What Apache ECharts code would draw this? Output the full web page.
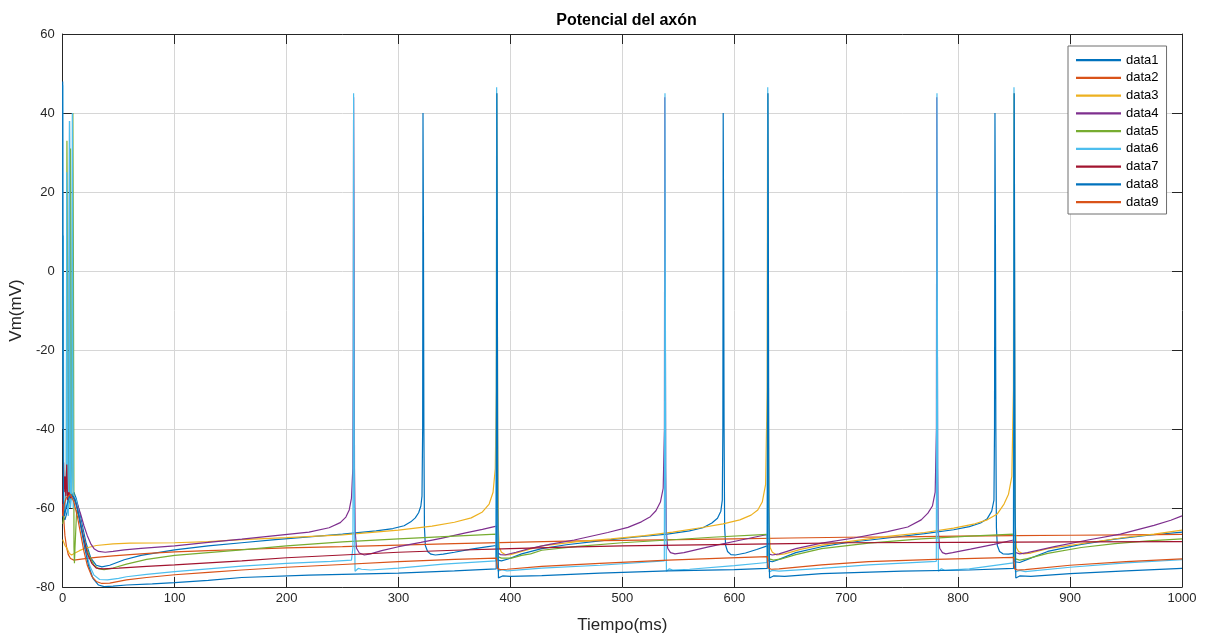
<!DOCTYPE html>
<html>
<head>
<meta charset="utf-8">
<script src="https://cdn.jsdelivr.net/npm/echarts@6/dist/echarts.min.js"></script>
<style>
  html, body { margin: 0; padding: 0; background: #fff; }
  #chart { width: 1212px; height: 641px; }
</style>
</head>
<body>
<div id="chart"></div>
<script>
// Membrane potential traces, [time (ms), Vm (mV)]
const data1 = [[0,-62],[2,-63],[4,-61],[5.3,-57],[5.8,0],[6.1,38],[6.5,0],[7,-58],[8,-57],[10,-56],[12,-57.5],[15,-61],[18,-65],[21,-69],[25,-72.6],[30,-74.5],[35,-74.9],[42,-74.5],[55,-73.1],[70,-72],[100,-70.6],[130,-69.6],[160,-68.8],[190,-68],[220,-67.3],[250,-66.6],[280,-65.8],[295,-65.2],[305,-64.5],[311,-63.5],[315,-62.5],[318,-61.2],[320,-59.5],[321,-57],[321.6,-40],[321.9,40],[322.3,10],[322.7,-40],[323.2,-65],[324,-69.5],[326,-71],[329,-71.7],[333,-71.9],[340,-71.7],[350,-71.2],[365,-70.4],[380,-69.8],[387.5,-69.5],[388.5,-73.2],[392,-73.4],[398,-72.9],[410,-71.6],[428,-70.3],[450,-69.3],[480,-68.3],[510,-67.4],[540,-66.6],[560,-65.8],[572,-65],[580,-63.8],[585,-62.6],[588,-60.8],[589.3,-58],[589.8,-40],[590.1,40],[590.5,10],[590.9,-40],[591.4,-65],[592.3,-69.5],[594,-71],[597,-71.8],[601,-71.9],[610,-71.4],[620,-70.5],[629.5,-69.6],[630.5,-73.4],[634,-73.6],[640,-73],[655,-71.3],[678,-69.8],[700,-68.8],[737,-67.6],[770,-66.5],[796,-65.5],[810,-64.7],[820,-63.8],[826,-62.7],[830,-60.8],[832,-58],[832.5,-40],[832.9,40],[833.3,10],[833.7,-40],[834.2,-65],[835,-69.5],[837,-71],[840,-71.6],[845,-71.7],[849.5,-71.5],[850.5,-73.6],[855,-73.8],[862,-73],[880,-71],[910,-69.2],[940,-67.9],[970,-66.9],[1000,-66.1]];

const data2 = [[0,-59],[1,-63],[2,-67],[3.5,-70],[5,-71.8],[7,-72.8],[10,-73.2],[15,-73],[20,-72.8],[30,-72.5],[45,-72.1],[60,-71.8],[80,-71.4],[100,-71.1],[130,-70.8],[160,-70.5],[200,-70.1],[250,-69.8],[300,-69.4],[350,-69],[400,-68.7],[450,-68.4],[500,-68.2],[550,-68],[600,-67.8],[650,-67.6],[700,-67.4],[750,-67.3],[800,-67.1],[850,-67],[900,-66.9],[950,-66.8],[1000,-66.7]];

const data3 = [[0,-68],[2,-69.5],[4,-70.3],[6,-71.5],[8,-71.9],[11,-71.4],[15,-70.8],[20,-70.2],[30,-69.5],[45,-69.1],[60,-68.9],[100,-68.8],[130,-68.5],[160,-68],[200,-67.5],[250,-66.8],[300,-65.6],[330,-64.6],[350,-63.6],[365,-62.5],[375,-61],[381,-59],[384.5,-56],[386.5,-50],[387.4,-30],[387.8,45],[388.2,20],[388.6,-40],[389.2,-65],[390,-70],[392,-71.2],[396,-71.9],[400,-71.8],[410,-71],[428,-69.6],[460,-68.5],[490,-67.8],[520,-67],[545,-66.1],[570,-65],[590,-64],[605,-63],[615,-61.8],[621,-60.5],[625,-58.5],[628,-54],[629.4,-30],[629.8,45],[630.2,20],[630.6,-40],[631.2,-65],[632,-70],[634,-71.2],[638,-71.9],[645,-71.6],[660,-70.4],[678,-69.4],[710,-68.2],[737,-67.2],[770,-66.2],[796,-65.1],[815,-64],[826,-63],[835,-61.5],[841,-59],[845,-56.5],[848,-52],[849.4,-30],[849.8,45],[850.2,20],[850.6,-40],[851.2,-65],[852,-70],[854,-71],[858,-71.6],[865,-71.4],[880,-70.3],[916,-68.8],[950,-67.4],[975,-66.6],[1000,-65.6]];

const data4 = [[0,-62],[3,-60],[6,-58.5],[8,-57.5],[10,-57.8],[13,-59],[16,-61.5],[19,-64.5],[22,-67],[25,-69],[28,-70.3],[32,-71],[38,-71.2],[45,-71],[55,-70.6],[70,-70.2],[100,-69.6],[130,-68.7],[160,-67.9],[190,-67],[220,-66.1],[238,-65],[248,-63.7],[253,-62.3],[256,-60.5],[258,-57.5],[259.2,-50],[259.6,-20],[259.9,44],[260.3,10],[260.7,-50],[261.3,-66],[262.5,-70.2],[265,-71.4],[269.5,-71.9],[275,-71.6],[285,-70.8],[300,-69.8],[320,-68.7],[338,-67.7],[360,-66.3],[375,-65.4],[387.5,-64.6],[388.5,-71.3],[391,-71.8],[395,-71.9],[405,-71.2],[418,-70.2],[435,-69.2],[457,-68.1],[487,-66.2],[505,-64.9],[517,-63.5],[525,-62.2],[530,-60.7],[534,-58.5],[536.5,-55],[537.6,-40],[537.9,44],[538.3,10],[538.7,-50],[539.3,-66],[540.5,-70.2],[543,-71.3],[547,-71.6],[555,-71.3],[576,-69.9],[606,-68.1],[629.5,-66.7],[630.5,-71.6],[634,-71.9],[640,-71.6],[655,-70.3],[678,-68.9],[707,-67.6],[737,-66],[755,-64.8],[767,-63],[773,-61.3],[777,-59.5],[779.5,-56],[780.6,-40],[780.9,44],[781.3,10],[781.7,-50],[782.3,-66],[783.5,-70.2],[786,-71.3],[789,-71.6],[795,-71.3],[811,-70.4],[832,-69.2],[849.5,-68.1],[850.5,-71.2],[855,-71.6],[862,-71.3],[886,-69.8],[916,-68.1],[945,-66.6],[975,-64.4],[990,-63.1],[1000,-62]];

const data5 = [[0,-64],[2,-61],[3.3,-50],[3.8,33],[4.3,0],[4.8,-58],[5.5,-60],[6.5,-50],[7,31],[7.5,0],[8,-58],[8.6,-50],[9.1,40],[9.6,0],[10.1,-70],[10.5,-74],[11,-70],[12.5,-60.5],[15,-62.5],[18.5,-67.3],[21,-70],[24.4,-72.5],[28,-74.5],[32,-75.4],[37,-75.6],[45,-75.2],[57,-74.2],[75,-73],[100,-72],[130,-71.3],[160,-70.6],[200,-69.6],[250,-68.6],[300,-67.8],[350,-67.1],[387.5,-66.6],[388.5,-72.3],[392,-72.7],[401,-72.7],[410,-72],[418,-71.6],[428,-70.7],[460,-69.7],[500,-68.8],[541,-68.1],[580,-67.4],[629.5,-66.7],[630.5,-72.8],[635,-73.2],[642,-72.9],[655,-71.8],[678,-70.3],[720,-68.9],[767,-67.8],[810,-67.1],[849.5,-66.6],[850.5,-72.8],[855,-73.2],[862,-72.8],[880,-71.5],[910,-70],[940,-69],[970,-68.3],[1000,-67.8]];

const data6 = [[0,47],[0.3,-40],[0.6,9],[0.9,-55],[1.5,-62],[2.5,-60],[3.2,-50],[3.6,25],[4,-20],[4.4,-60],[5,-62],[5.7,-50],[6.1,38],[6.5,-10],[6.9,-60],[7.6,-58],[8.2,-50],[8.6,40],[9,-10],[9.4,-60],[10,-57],[12,-58],[15,-62],[18,-66.5],[21,-71],[24,-74.5],[28,-77],[33,-78.1],[40,-78.2],[50,-77.8],[57,-77.4],[75,-76.8],[100,-76.1],[130,-75.4],[160,-74.7],[200,-74],[240,-73.5],[258,-73.2],[259.3,-70],[259.6,-30],[259.9,45],[260.2,0],[260.6,-60],[261.2,-76],[262,-76.4],[264,-75.3],[267,-75.5],[275,-75.7],[300,-75.2],[340,-74.2],[387,-73.4],[387.4,-30],[387.7,46.5],[388,0],[388.4,-60],[389,-76],[390,-76.4],[392,-75.6],[397,-75.9],[428,-75.2],[480,-74.5],[537.5,-73.4],[537.8,-30],[538.1,45],[538.4,0],[538.8,-60],[539.4,-76],[540.2,-76.4],[542,-75.4],[545,-75.7],[560,-75.5],[600,-74.6],[629.3,-73.8],[629.6,-30],[629.9,46.5],[630.2,0],[630.6,-60],[631.2,-76.2],[632,-76.5],[634,-75.8],[640,-76],[678,-75.3],[720,-74.4],[780.5,-73.5],[780.8,-30],[781.1,45],[781.4,0],[781.8,-60],[782.4,-76],[783.2,-76.4],[785,-75.4],[788,-75.8],[810,-75.4],[849.3,-73.9],[849.6,-30],[849.9,46.5],[850.2,0],[850.6,-60],[851.2,-76.2],[852,-76.5],[855,-75.8],[860,-76.1],[900,-75],[950,-73.9],[1000,-73.1]];

const data7 = [[0,-62],[0.8,-48.5],[1.3,-56],[2.2,-52],[2.8,-57],[3.6,-49],[4.3,-58],[5.5,-56],[7,-57.5],[9,-57],[11,-58],[13,-60],[16,-64],[19,-68],[22,-71.5],[26,-74],[30,-75.2],[36,-75.4],[50,-75.2],[75,-74.8],[100,-74.4],[130,-73.9],[160,-73.4],[200,-72.6],[250,-71.9],[300,-71.2],[350,-70.7],[400,-70.3],[450,-69.9],[500,-69.6],[550,-69.4],[600,-69.2],[650,-69],[700,-68.8],[800,-68.7],[900,-68.6],[1000,-68.5]];

const data8 = [[0,48],[0.3,-20],[0.7,-58],[1.5,-62],[3,-60],[5,-58],[7,-56.5],[9,-57],[11,-58],[14,-61.5],[17,-66],[20,-70.5],[23,-74.5],[27,-77.8],[32,-79.5],[37,-79.9],[45,-79.8],[57,-79.5],[80,-79.2],[100,-78.9],[130,-78.3],[160,-77.6],[220,-77],[300,-76.5],[350,-75.9],[387.3,-75.4],[387.6,-30],[387.9,45],[388.3,0],[388.7,-60],[389.3,-77.7],[390.5,-77.9],[393,-77.2],[400,-77.3],[428,-77.1],[480,-76.5],[541,-75.9],[600,-75.6],[629.5,-75.3],[629.8,-30],[630.1,45],[630.5,0],[630.9,-60],[631.5,-77.7],[632.7,-77.9],[635,-77.2],[645,-77.3],[678,-76.6],[750,-76],[810,-75.7],[849.5,-75.3],[849.8,-30],[850.1,45],[850.5,0],[850.9,-60],[851.5,-77.7],[852.7,-77.9],[855,-77.2],[865,-77.3],[900,-76.6],[950,-75.9],[1000,-75.3]];

const data9 = [[0,-62],[1.5,-59],[3,-57.5],[5,-57],[7,-56.5],[8.5,-57.5],[10,-58.5],[13,-62],[16,-66.5],[19,-71],[22,-74.5],[26,-77.3],[30,-78.6],[35,-79.1],[42,-79],[57,-78.2],[75,-77.6],[100,-76.9],[130,-76.3],[160,-75.7],[200,-75],[250,-74.3],[300,-73.6],[350,-73],[387.5,-72.7],[388.5,-75.3],[391,-75.6],[397,-75.5],[428,-74.8],[480,-74],[541,-73.2],[590,-72.7],[629.5,-72.3],[630.5,-75.2],[633,-75.5],[640,-75.4],[678,-74.4],[720,-73.6],[780,-73],[849.5,-72.5],[850.5,-75.4],[853,-75.7],[860,-75.6],[900,-74.5],[950,-73.6],[1000,-72.9]];

const seriesNames = ['data1','data2','data3','data4','data5','data6','data7','data8','data9'];
const seriesData = [data1, data2, data3, data4, data5, data6, data7, data8, data9];
const lineColors = ['#0072BD','#D95319','#EDB120','#7E2F8E','#77AC30','#4DBEEE','#A2142F','#0072BD','#D95319'];

const xRange = { min: 0, max: 1000, step: 100 };
const yRange = { min: -80, max: 60, step: 20 };

const axisColor = '#262626';
const font = 'Arial, "Liberation Sans", Helvetica, sans-serif';

// thin horizontal bar used as the legend key
const legendLineIcon = 'path://M0,0 L30,0 L30,1.5 L0,1.5 Z';

const chart = echarts.init(document.getElementById('chart'), null, { renderer: 'canvas' });

const boxAxis = (extra) => Object.assign({
  type: 'value',
  axisLine: { show: true, onZero: false, lineStyle: { color: axisColor, width: 1 } },
  axisTick: { show: true, inside: true, length: 10, lineStyle: { color: axisColor, width: 1 } },
  axisLabel: { show: false },
  splitLine: { show: false }
}, extra);

chart.setOption({
  animation: false,
  backgroundColor: '#ffffff',
  title: {
    text: 'Potencial del axón',
    left: 621.5,
    textAlign: 'center',
    top: 8,
    textStyle: { fontFamily: font, fontSize: 16, fontWeight: 'bold', color: '#000' }
  },
  legend: {
    data: seriesNames.map(n => ({ name: n, icon: legendLineIcon })),
    orient: 'vertical',
    left: 1068,
    top: 46,
    padding: [7.5, 8, 5.5, 8],
    itemWidth: 45,
    itemHeight: 14,
    itemGap: 4.75,
    symbolKeepAspect: true,
    backgroundColor: '#fff',
    borderColor: '#6e6e6e',
    borderWidth: 1,
    borderRadius: 0,
    textStyle: { fontFamily: font, fontSize: 13, color: '#000' }
  },
  grid: { left: 61, right: 30, top: 34, bottom: 54, containLabel: false },
  xAxis: [
    boxAxis({
      position: 'bottom',
      min: xRange.min, max: xRange.max, interval: xRange.step,
      name: 'Tiempo(ms)',
      nameLocation: 'middle',
      nameGap: 30,
      nameTextStyle: { fontFamily: font, fontSize: 17, color: axisColor },
      axisLabel: { show: true, margin: 5, fontFamily: font, fontSize: 13, color: axisColor,
                   formatter: (v) => String(v) },
      splitLine: { show: true, lineStyle: { color: '#d6d6d6', width: 1 } }
    }),
    boxAxis({ position: 'top', min: xRange.min, max: xRange.max, interval: xRange.step })
  ],
  yAxis: [
    boxAxis({
      position: 'left',
      min: yRange.min, max: yRange.max, interval: yRange.step,
      name: 'Vm(mV)',
      nameLocation: 'middle',
      nameGap: 37,
      nameRotate: 90,
      nameTextStyle: { fontFamily: font, fontSize: 17, color: axisColor },
      axisLabel: { show: true, margin: 8, fontFamily: font, fontSize: 13, color: axisColor,
                   formatter: (v) => String(v) },
      splitLine: { show: true, lineStyle: { color: '#d6d6d6', width: 1 } }
    }),
    boxAxis({ position: 'right', min: yRange.min, max: yRange.max, interval: yRange.step })
  ],
  series: seriesNames.map((name, i) => ({
    name: name,
    type: 'line',
    xAxisIndex: 0,
    yAxisIndex: 0,
    data: seriesData[i],
    showSymbol: false,
    symbol: 'none',
    smooth: false,
    clip: true,
    lineStyle: { color: lineColors[i], width: 1.2 },
    itemStyle: { color: lineColors[i] },
    emphasis: { disabled: true }
  }))
});
</script>
</body>
</html>
